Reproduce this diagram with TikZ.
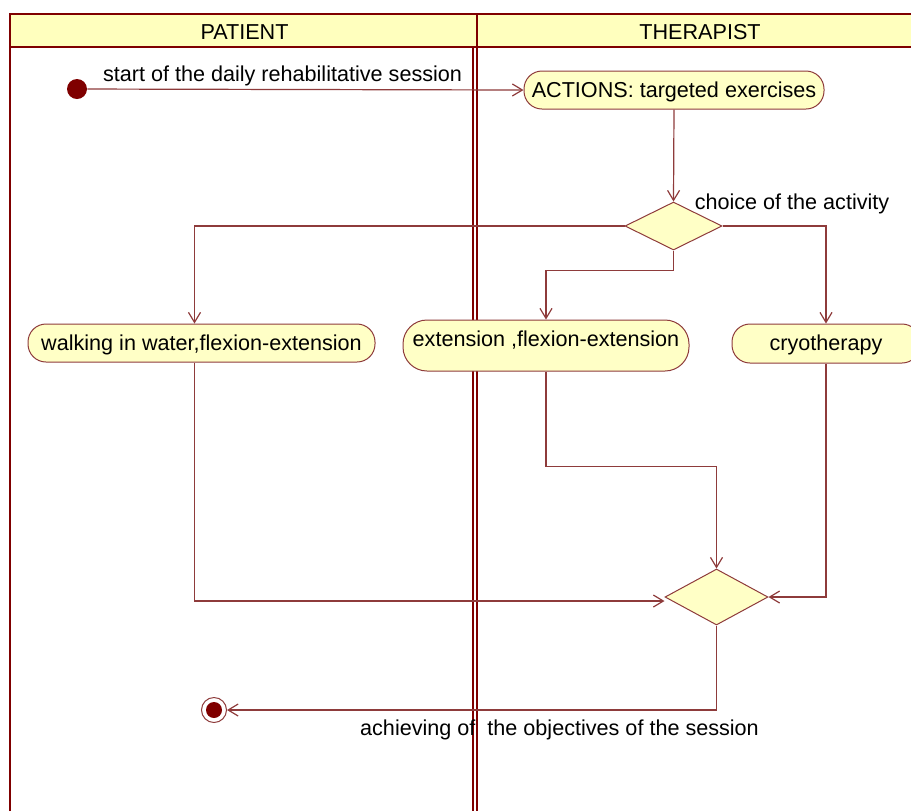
\documentclass[tikz,border=0pt]{standalone}
\usepackage{fontspec}
\setmainfont{Liberation Sans}
\usetikzlibrary{shapes.geometric, arrows.meta}

\definecolor{lane}{HTML}{7F0000}
\definecolor{flow}{HTML}{8E3B3B}
\definecolor{headyellow}{HTML}{FFFFBE}
\definecolor{nodeyellow}{HTML}{FFFFC6}

\tikzset{
    action/.style={rectangle, rounded corners=9pt, draw=flow, fill=nodeyellow,
        line width=0.5pt, inner sep=0pt, text height=8pt, text depth=1pt},
    decision/.style={diamond, draw=flow, fill=nodeyellow, line width=0.5pt, inner sep=0pt},
    flowline/.style={draw=flow, line width=0.6pt, -{Straight Barb[length=5pt, width=6pt]}},
    initial/.style={circle, fill=lane, minimum size=10pt, inner sep=0pt},
    final/.style={circle, draw=flow, line width=0.5pt, fill=white, minimum size=12.5pt, inner sep=0pt,
        path picture={\fill[lane] (path picture bounding box.center) circle[radius=4pt];}},
    laneline/.style={draw=lane, line width=1pt}
}

\begin{document}
\begin{tikzpicture}[x=0.5pt, y=-0.5pt, font=\fontsize{10.8pt}{13pt}\selectfont]

    \useasboundingbox (0,0) rectangle (911,811);
    \clip (0,0) rectangle (911,811);

    %% Swimlanes

    % Header
    \fill[headyellow] (10,14) rectangle (930,47);
    \draw[laneline] (10,811) -- (10,14) -- (930,14);
    \draw[laneline] (10,47) -- (930,47);
    \draw[laneline] (477,14) -- (477,47);
    \draw[laneline] (473,47) -- (473,811);
    \draw[laneline] (477,47) -- (477,811);
    \node (patient) at (244.5,32) {PATIENT};
    \node (therapist) at (700,32) {THERAPIST};

    %% Activities

    \node[initial] (start) at (77,89) {};
    \node[action, minimum width=150pt, minimum height=19pt] (act) at (674,90) {ACTIONS: targeted exercises};
    \node[decision, minimum width=48.5pt, minimum height=24pt] (d1) at (673.5,226) {};
    \node (choice) at (792,204) {choice of the activity};

    \node[action, minimum width=173.5pt, minimum height=19pt] (walk) at (201.5,343) {walking in water,flexion-extension};
    \node[action, rounded corners=12pt, text depth=7pt, minimum width=143pt, minimum height=25.5pt] (ext) at (546,345.5) {extension ,flexion-extension};
    \node[action, minimum width=94pt, minimum height=19.5pt] (cryo) at (826,343.5) {cryotherapy};

    \node[decision, minimum width=51.5pt, minimum height=28pt] (d2) at (716.5,597) {};
    \node[final] (end) at (214,710) {};

    \node (startlbl) at (282.5,76) {start of the daily rehabilitative session};
    \node (goal) at (559.5,730) {achieving of\ \ the objectives of the session};

    %% Flows

    \draw[flowline] (start) -- (act.west);
    \draw[flowline] (act.south) -- (d1.north);
    \draw[flowline] (d1.west) -| ([xshift=-3.5pt]walk.north);
    \draw[flowline] (d1.south) -- ++(0,20) -| (ext.north);
    \draw[flowline] (d1.east) -| (cryo.north);

    \draw[flowline] ([xshift=-3.5pt]walk.south) |- ([yshift=-2pt]d2.west);
    \draw[flowline] (ext.south) -- ++(0,95) -| (d2.north);
    \draw[flowline] (cryo.south) |- (d2.east);
    \draw[flowline] (d2.south) |- (end.east);

\end{tikzpicture}
\end{document}
